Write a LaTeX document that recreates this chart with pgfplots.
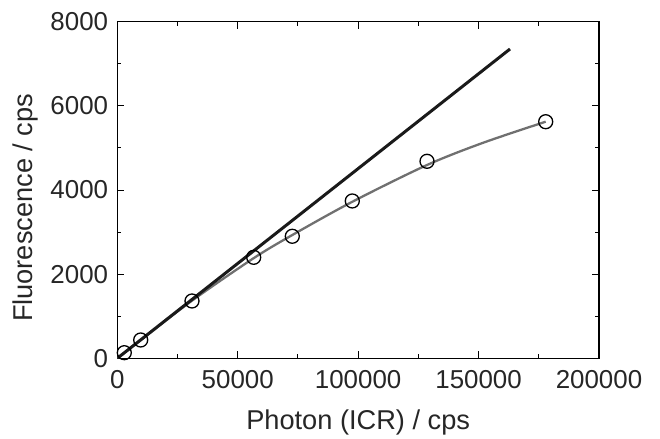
\documentclass[border=0pt]{standalone}
\usepackage{pgfplots}
\pgfplotsset{compat=1.18}
\usepackage{fontspec}
\setmainfont{Liberation Sans}
\definecolor{fitgray}{HTML}{707070}
\definecolor{lingray}{HTML}{1A1A1A}

\begin{document}
\begin{tikzpicture}
\begin{axis}[
  scale only axis, width=481.7bp, height=336.6bp,
  xmin=0, xmax=200000, ymin=0, ymax=8000,
  xtick={0,50000,100000,150000,200000},
  ytick={0,2000,4000,6000,8000},
  minor x tick num=1, minor y tick num=1,
  scaled ticks=false,
  /pgf/number format/fixed,
  /pgf/number format/1000 sep={},
  /pgf/number format/assume math mode=true,
  tick align=inside,
  major tick length=7bp, minor tick length=4bp,
  tick style={black, line width=0.9pt},
  axis line style={black, line width=1.2pt},
  ticklabel style={font=\fontsize{26}{30}\selectfont, text=black!85},
  xticklabel style={anchor=north, inner sep=0pt, yshift=-11.7bp},
  yticklabel style={anchor=east, inner sep=0pt, xshift=-9bp},
  label style={font=\fontsize{27.3}{32}\selectfont, text=black!85},
  xlabel={Photon (ICR) / cps},
  ylabel={Fluorescence / cps},
  xlabel style={at={(axis description cs:0.5,-0.213)}, anchor=base},
  ylabel style={at={(axis description cs:-0.177,0.447)}, anchor=base},
]

% fitted saturation curve
\addplot[fitgray, line width=2.3pt, smooth, tension=0.5] coordinates {
  (0,0) (2906,130) (9716,430) (31013,1370) (56633,2380) (72660,2930)
  (97570,3720) (128590,4594) (151970,5124) (177870,5623)
};

% linear response
\addplot[lingray, line width=3pt] coordinates {(0,0) (163050,7351)};

% measured points
\addplot[only marks, mark=o, mark size=7bp, mark options={black, line width=1.3pt}]
  table {
x y
2906 133
9716 435
31013 1362
56633 2400
72660 2900
97570 3739
128590 4682
177870 5623
};

\end{axis}
\path ([xshift=-117.3bp,yshift=-77.7bp]current axis.south west)
  rectangle ([xshift=61bp,yshift=21.7bp]current axis.north east);
\end{tikzpicture}
\end{document}
